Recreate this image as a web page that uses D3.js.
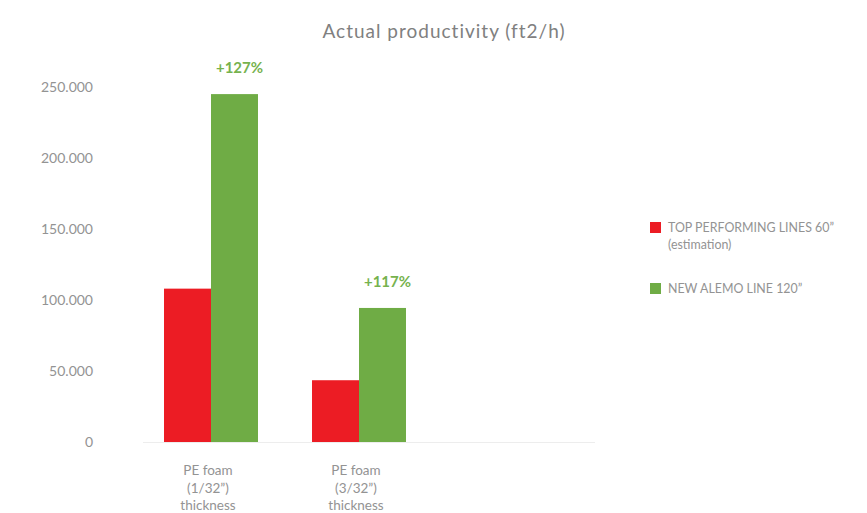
<!DOCTYPE html>
<html>
<head>
<meta charset="utf-8">
<script src="https://cdn.jsdelivr.net/npm/d3@7"></script>
<style>
  html, body { margin: 0; padding: 0; background: #ffffff; }
  svg { display: block; font-family: Lato, "Open Sans", sans-serif; }
</style>
</head>
<body>
<svg id="chart" width="867" height="513"></svg>
<script>
// Product categories (each label is wrapped over several lines)
const categories = ["PE foam (1/32”) thickness", "PE foam (3/32”) thickness"];
const categoryLines = [["PE foam", "(1/32”)", "thickness"], ["PE foam", "(3/32”)", "thickness"]];

// Series
const seriesNames = ["TOP PERFORMING LINES 60” (estimation)", "NEW ALEMO LINE 120”"];
const legendLines = [["TOP PERFORMING LINES 60”", "(estimation)"], ["NEW ALEMO LINE 120”"]];
const topPerformingValues = [108000, 43500];
const newAlemoValues = [245000, 94400];
const gainLabels = ["+127%", "+117%"];

// Axis ticks
const yTicks = [0, 50000, 100000, 150000, 200000, 250000];

const colors = ["#ec1c24", "#6fac45"];
const textGray = "#939393";

const svg = d3.select("#chart");

const plot = { left: 137, right: 595, top: 87, bottom: 442 };

const y = d3.scaleLinear().domain([0, 250000]).range([plot.bottom, plot.top]);

const x = d3.scaleBand()
  .domain(categories)
  .range([137, 433])
  .paddingInner(0.365)
  .paddingOuter(0.1825);

const xSeries = d3.scaleBand()
  .domain(seriesNames)
  .range([0, x.bandwidth()]);

// Title
svg.append("text")
  .attr("x", 444).attr("y", 38)
  .attr("text-anchor", "middle")
  .attr("font-size", 19)
  .attr("letter-spacing", 1)
  .attr("fill", "#808080")
  .text("Actual productivity (ft2/h)");

// Y axis labels (no axis line, no ticks)
const yAxis = d3.axisLeft(y)
  .tickValues(yTicks)
  .tickSize(0)
  .tickPadding(0)
  .tickFormat(d => d === 0 ? "0" : d3.format(",")(d).replace(/,/g, "."));

const yg = svg.append("g")
  .attr("transform", `translate(93,0)`)
  .call(yAxis);
yg.select(".domain").remove();
yg.selectAll("text")
  .attr("font-family", "Lato, 'Open Sans', sans-serif")
  .attr("font-size", 14)
  .attr("fill", textGray);

// Baseline
svg.append("line")
  .attr("x1", 143).attr("x2", plot.right)
  .attr("y1", plot.bottom + 0.5).attr("y2", plot.bottom + 0.5)
  .attr("stroke", "#ededed")
  .attr("stroke-width", 1);

// Bars
const rows = categories.map((c, i) => ({
  category: c,
  values: [topPerformingValues[i], newAlemoValues[i]],
  gain: gainLabels[i]
}));

const groups = svg.selectAll("g.group")
  .data(rows)
  .join("g")
  .attr("class", "group")
  .attr("transform", d => `translate(${x(d.category)},0)`);

groups.selectAll("rect")
  .data(d => d.values.map((v, j) => ({ series: seriesNames[j], value: v, j })))
  .join("rect")
  .attr("x", d => xSeries(d.series))
  .attr("width", xSeries.bandwidth())
  .attr("y", d => y(d.value))
  .attr("height", d => y(0) - y(d.value))
  .attr("fill", d => colors[d.j]);

// Percentage gain labels above the new-line bars
groups.append("text")
  .attr("x", xSeries(seriesNames[1]) + xSeries.bandwidth() / 2 + 5)
  .attr("y", d => y(d.values[1]) - 21)
  .attr("text-anchor", "middle")
  .attr("font-size", 15)
  .attr("font-weight", 700)
  .attr("fill", "#76b24e")
  .text(d => d.gain);

// Category labels
groups.each(function(d, i) {
  const t = d3.select(this).append("text")
    .attr("text-anchor", "middle")
    .attr("font-size", 13.5)
    .attr("fill", textGray);
  categoryLines[i].forEach((line, k) => {
    t.append("tspan")
      .attr("x", x.bandwidth() / 2 - 3)
      .attr("y", 475 + k * 17.5)
      .text(line);
  });
});

// Legend
const legend = svg.append("g").attr("transform", "translate(650,0)");
const legendY = [228, 289];
seriesNames.forEach((name, i) => {
  const g = legend.append("g").attr("transform", `translate(0,${legendY[i]})`);
  g.append("rect")
    .attr("x", 0).attr("y", -6)
    .attr("width", 11).attr("height", 11)
    .attr("fill", colors[i]);
  const t = g.append("text")
    .attr("font-size", 12.4)
    .attr("fill", textGray);
  legendLines[i].forEach((line, k) => {
    t.append("tspan")
      .attr("x", 18)
      .attr("y", 4 + k * 17)
      .text(line);
  });
});
</script>
</body>
</html>
